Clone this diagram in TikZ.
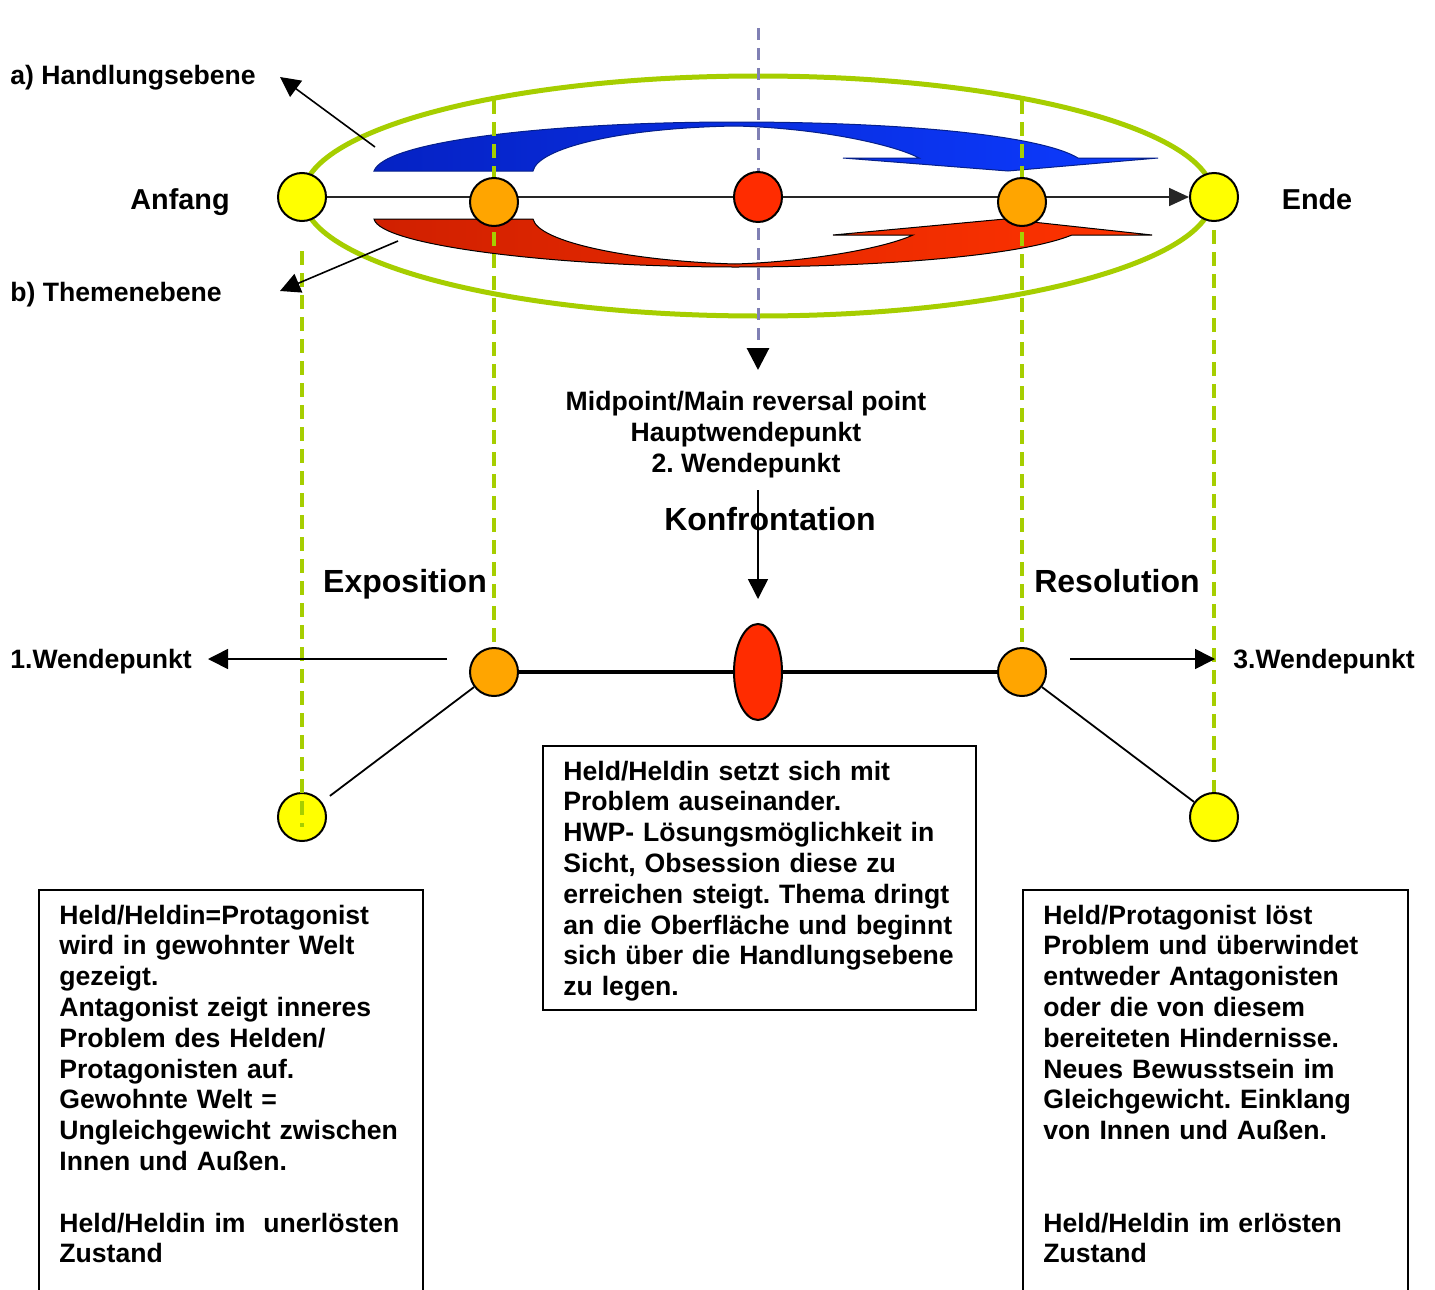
\documentclass[tikz,border=0pt]{standalone}
\usepackage{fontspec}
\setmainfont{Liberation Sans}
\usepackage{tikz}
\usetikzlibrary{arrows.meta,calc,positioning,shapes.geometric,backgrounds}
\definecolor{plotGreen}{HTML}{A6CE00}
\definecolor{plotPurple}{HTML}{8080B4}
\definecolor{plotYellow}{HTML}{FFFF00}
\definecolor{plotOrange}{HTML}{FFA500}
\definecolor{plotRed}{HTML}{FF2C00}
\definecolor{actionBlueDark}{HTML}{0522C4}
\definecolor{actionBlue}{HTML}{0D3BFF}
\definecolor{actionBlueLine}{HTML}{06208A}
\definecolor{themeRedDark}{HTML}{D02000}
\definecolor{themeRed}{HTML}{FF3300}
\frenchspacing
\tikzset{
  story ring/.style={draw=plotGreen, line width=2.5pt},
  act guide/.style={draw=plotGreen, line width=1.8pt, dash pattern=on 7pt off 4pt},
  mid guide/.style={draw=plotPurple, line width=1.5pt, dash pattern=on 6pt off 4pt,
    -{Triangle[length=11pt,width=11pt,color=black]}},
  time line/.style={draw=black!85, line width=0.9pt, -{Triangle[length=10pt,width=9pt]}},
  bottom line/.style={draw=black, line width=1.8pt},
  link/.style={draw=black, line width=0.9pt},
  pointer/.style={draw=black, line width=0.8pt, -{Triangle[length=10pt,width=10pt]}},
  turn point/.style={circle, draw=black, line width=1pt, fill=plotOrange,
    minimum size=24pt, inner sep=0pt},
  start end/.style={turn point, fill=plotYellow},
  reversal/.style={ellipse, draw=black, line width=1pt, fill=plotRed,
    minimum width=24pt, minimum height=25pt, inner sep=0pt},
  action arc/.style={left color=actionBlueDark, right color=actionBlue,
    draw=actionBlueLine, line width=0.5pt},
  theme arc/.style={left color=themeRedDark, right color=themeRed,
    draw=black, line width=0.5pt},
  tag/.style={font=\bfseries\fontsize{13.3pt}{15.3pt}\selectfont, inner sep=0pt},
  end tag/.style={font=\bfseries\fontsize{14.4pt}{17pt}\selectfont, inner sep=0pt},
  act tag/.style={font=\bfseries\fontsize{16pt}{19pt}\selectfont, inner sep=0pt},
  info box/.style={draw=black, line width=0.8pt, inner sep=0pt},
  box text/.style={font=\bfseries\fontsize{13.3pt}{15.4pt}\selectfont,
    align=left, inner sep=0pt}
}

\begin{document}
\begin{tikzpicture}[x=0.5pt, y=-0.5pt]
  \useasboundingbox (0,0) rectangle (1435,1290);

  % upper plot line
  \node[start end] (yT1) at (302,197) {};
  \node[turn point] (orT1) at (494,202) {};
  \node[reversal] (redT) at (758,197) {};
  \node[turn point] (orT2) at (1022,202) {};
  \node[start end] (yT2) at (1214,197) {};

  % lower plot line
  \node[turn point] (orB1) at (494,672) {};
  \node[reversal, minimum height=48pt] (redB) at (758,672) {};
  \node[turn point] (orB2) at (1022,672) {};
  \node[start end] (yB1) at (302,817) {};
  \node[start end] (yB2) at (1214,817) {};

  \coordinate (g1) at (494,100);
  \coordinate (g2) at (1022,100);
  \coordinate (midtop) at (758,28);
  \coordinate (midtip) at (758,370);

  \begin{scope}[on background layer]
    \draw[story ring] (758,196) ellipse [x radius=227.5pt, y radius=60pt];
    \shadedraw[action arc] (374,171) -- (533,171)
      .. controls (538,148) and (620,128) .. (735,126)
      .. controls (820,128) and (895,145) .. (919,158)
      -- (843,158) -- (1008,171) -- (1158,158) -- (1078,158)
      .. controls (1040,135) and (900,122) .. (735,122)
      .. controls (560,122) and (385,140) .. (374,171) -- cycle;
    \shadedraw[theme arc] (374,219) -- (533,219)
      .. controls (538,242) and (630,261) .. (735,264)
      .. controls (800,262) and (880,250) .. (913,235)
      -- (833,235) -- (1005,219) -- (1152,235) -- (1072,235)
      .. controls (1020,256) and (880,267) .. (735,267)
      .. controls (560,267) and (380,246) .. (374,219) -- cycle;
    \draw[act guide] (g1) -- (orB1.north);
    \draw[act guide] (g2) -- (orB2.north);
    \draw[act guide] ([yshift=-4pt]yT2.south) -- (yB2.north);
    \draw[mid guide] (midtop) -- (midtip);
    \draw[time line] (yT1) -- (yT2);
    \draw[bottom line] (orB1) -- (orB2);
    \draw[link, shorten >=5pt] (orB1) -- (yB1);
    \draw[link] (orB2) -- (yB2);
  \end{scope}
  \draw[act guide] ([yshift=-14.5pt]yT1.south) -- ([yshift=-5pt]yB1.center);

  % labels
  \node[tag, anchor=base west] (actlabel) at (10,84) {a) Handlungsebene};
  \node[tag, anchor=base west] (themelabel) at (10,301) {b) Themenebene};
  \node[end tag, anchor=base] (start) at (180,209) {Anfang};
  \node[end tag, anchor=base] (finish) at (1317,209) {Ende};
  \node[tag, align=center, anchor=base] (midtext) at (746,472)
    {Midpoint/Main reversal point\\Hauptwendepunkt\\2. Wendepunkt};
  \node[act tag, anchor=base] (conf) at (770,530) {Konfrontation};
  \node[act tag, anchor=base] (expo) at (405,592) {Exposition};
  \node[act tag, anchor=base] (reso) at (1117,592) {Resolution};
  \node[tag, anchor=base west] (turn1) at (10,668) {1.Wendepunkt};
  \node[tag, anchor=base west] (turn3) at (1233,668) {3.Wendepunkt};

  \coordinate (atail) at (375,147);
  \coordinate (atip) at (280,77);
  \coordinate (btail) at (398,241);
  \coordinate (btip) at (280,291);
  \coordinate (w1tail) at (447,659);
  \coordinate (w1tip) at (208,659);
  \coordinate (w3tail) at (1070,659);
  \coordinate (w3tip) at (1215,659);
  \coordinate (conftop) at (758,490);
  \draw[pointer] (atail) -- (atip);
  \draw[pointer] (btail) -- (btip);
  \draw[pointer] (w1tail) -- (w1tip);
  \draw[pointer] (w3tail) -- (w3tip);
  \draw[pointer, shorten >=12pt] (conftop) -- (redB.north);

  % text boxes
  \node[info box, minimum width=192pt, minimum height=210pt, anchor=north west]
    (expobox) at (38,889) {};
  \node[box text, text width=185pt, anchor=base west] (expotext) at (59,924)
    {Held/Heldin=Protagonist\\wird in gewohnter Welt\\gezeigt.\\
     Antagonist zeigt inneres\\Problem des Helden/\\Protagonisten auf.\\
     Gewohnte Welt =\\Ungleichgewicht zwischen\\Innen und Außen.\\~\\
     Held/Heldin im \ unerlösten\\Zustand};
  \node[info box, minimum width=216.5pt, minimum height=132pt, anchor=north west]
    (confbox) at (542,745) {};
  \node[box text, text width=205pt, anchor=base west] (conftext) at (563,780)
    {Held/Heldin setzt sich mit\\Problem auseinander.\\
     HWP- Lösungsmöglichkeit in\\Sicht, Obsession diese zu\\
     erreichen steigt. Thema dringt\\an die Oberfläche und beginnt\\
     sich über die Handlungsebene\\zu legen.};
  \node[info box, minimum width=192.5pt, minimum height=210pt, anchor=north west]
    (resobox) at (1022,889) {};
  \node[box text, text width=185pt, anchor=base west] (resotext) at (1043,924)
    {Held/Protagonist löst\\Problem und überwindet\\entweder Antagonisten\\
     oder die von diesem\\bereiteten Hindernisse.\\Neues Bewusstsein im\\
     Gleichgewicht. Einklang\\von Innen und Außen.\\~\\~\\
     Held/Heldin im erlösten\\Zustand};
\end{tikzpicture}
\end{document}
